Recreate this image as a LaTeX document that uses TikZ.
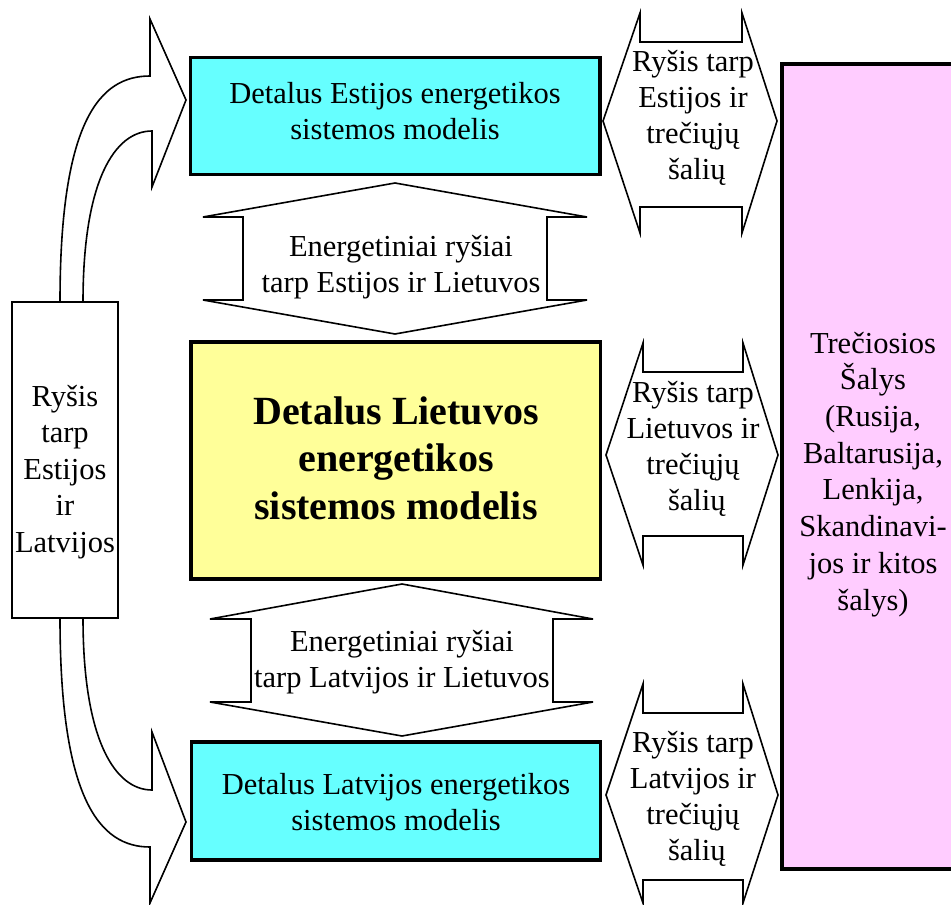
\documentclass[tikz,border=0pt]{standalone}
\usepackage{fontspec}
\setmainfont{Liberation Serif}
\definecolor{cyanfill}{RGB}{102,255,255}
\definecolor{yellowfill}{RGB}{255,255,153}
\definecolor{pinkfill}{RGB}{255,204,255}
\begin{document}
\begin{tikzpicture}[x=1pt,y=-1pt,
  thinline/.style={draw=black,line width=1.6pt,line join=miter,fill=white},
  thickbox/.style={draw=black,line width=3.6pt,inner sep=0pt,outer sep=0pt},
  txt/.style={font=\fontsize{30.5}{36}\selectfont,align=center,anchor=base,inner sep=0pt},
  boldtxt/.style={font=\fontsize{40}{47.5}\selectfont\bfseries,align=center,anchor=base,inner sep=0pt}]
\useasboundingbox (0,0) rectangle (951,905);
% curved arrows
\draw[thinline] (60,302) .. controls (60,120) and (100,76) .. (150,76) -- (150,19) -- (186,100) -- (152,187) -- (152,131) .. controls (115,131) and (83,180) .. (83,302);
\draw[thinline] (60,618) .. controls (60,800) and (100,847) .. (150,847) -- (150,903) -- (186,822) -- (152,732) -- (152,790) .. controls (115,790) and (83,740) .. (83,618);
% boxes
\node[thickbox,fill=cyanfill,minimum width=409.5pt,minimum height=117pt] (est) at (395.25,116) {};
\node[thickbox,fill=yellowfill,minimum width=409.5pt,minimum height=237pt] (lt) at (395.75,460.5) {};
\node[thickbox,fill=cyanfill,minimum width=409pt,minimum height=118pt] (lv) at (396,801) {};
\node[draw=black,line width=1.6pt,fill=white,inner sep=0pt,minimum width=106pt,minimum height=316pt] (el) at (65,460) {};
\draw[draw=black,line width=3.6pt,fill=pinkfill] (782,64) coordinate (pinkA) -- (782,869) -- (990,869) -- (990,64) -- cycle;
% vertical double arrows
\draw[thinline] (395,183) -- (587,217) -- (547,217) -- (547,300) -- (587,300) -- (395,334) -- (203,300) -- (243,300) -- (243,217) -- (203,217) -- cycle;
\draw[thinline] (402,584) -- (593,619) -- (553,619) -- (553,702) -- (593,702) -- (402,736) -- (210,702) -- (251,702) -- (251,619) -- (210,619) -- cycle;
% horizontal double arrows
\draw[thinline] (603,121) -- (640,13) -- (640,42) -- (742,42) -- (742,13) -- (777,121) -- (742,233) -- (742,207) -- (640,207) -- (640,233) -- cycle;
\draw[thinline] (606,455) -- (643,343) -- (643,372) -- (743,372) -- (743,343) -- (778,455) -- (743,565) -- (743,536) -- (643,536) -- (643,565) -- cycle;
\draw[thinline] (606,795) -- (643,684) -- (643,713) -- (743,713) -- (743,684) -- (778,795) -- (743,903) -- (743,880) -- (643,880) -- (643,903) -- cycle;
% texts (anchor = baseline of the last line)
\node[txt] (estT) at (395,139) {Detalus Estijos energetikos\\sistemos modelis};
\node[boldtxt] (ltT) at (396,519) {Detalus Lietuvos\\energetikos\\sistemos modelis};
\node[txt] (lvT) at (396,830) {Detalus Latvijos energetikos\\sistemos modelis};
\node[txt,font=\fontsize{30.5}{36.5}\selectfont] (elT) at (65,552) {Ryšis\\tarp\\Estijos\\ir\\Latvijos};
\node[txt] (a1T) at (401,292) {Energetiniai ryšiai\\tarp Estijos ir Lietuvos};
\node[txt] (a2T) at (402,687) {Energetiniai ryšiai\\tarp Latvijos ir Lietuvos};
\node[txt,font=\fontsize{30.5}{35.8}\selectfont] (r1T) at (693,179) {Ryšis tarp\\Estijos ir\\trečiųjų\\\hspace*{0.25em}šalių};
\node[txt,font=\fontsize{30.5}{35.8}\selectfont] (r2T) at (693,510) {Ryšis tarp\\Lietuvos ir\\trečiųjų\\\hspace*{0.25em}šalių};
\node[txt,font=\fontsize{30.5}{35.8}\selectfont] (r3T) at (693,860) {Ryšis tarp\\Latvijos ir\\trečiųjų\\\hspace*{0.25em}šalių};
\node[txt,font=\fontsize{30.5}{36.7}\selectfont] (pT) at (873,610) {Trečiosios\\Šalys\\(Rusija,\\Baltarusija,\\Lenkija,\\Skandinavi-\\jos ir kitos\\šalys)};
\end{tikzpicture}
\end{document}
